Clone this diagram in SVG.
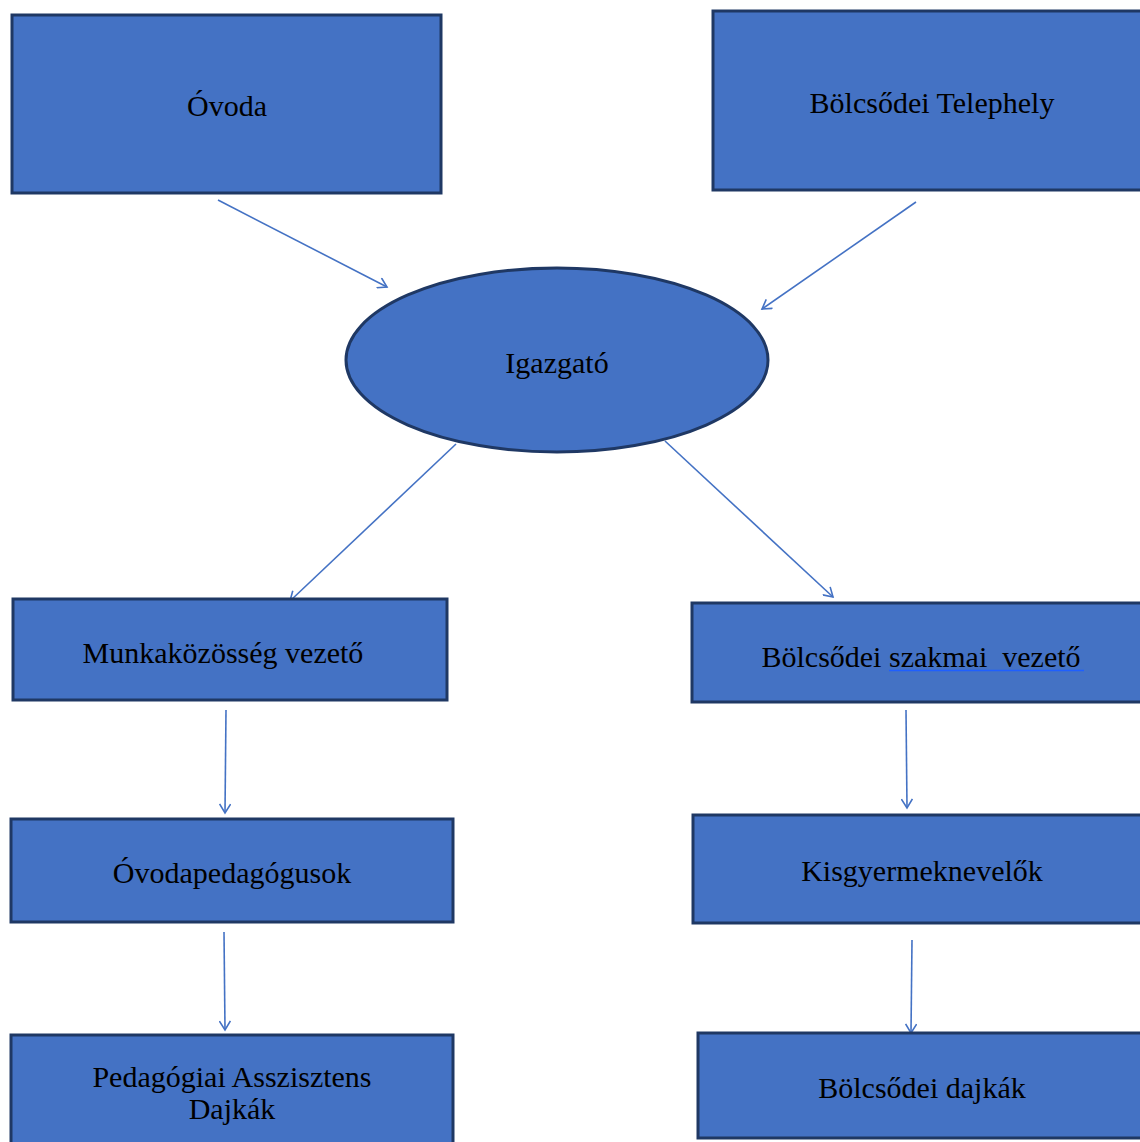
<svg xmlns="http://www.w3.org/2000/svg" width="1140" height="1142" viewBox="0 0 1140 1142">
<style>
.box{fill:#4472C4;stroke:#1F3864;stroke-width:3}
.lbl{font-family:"Liberation Serif","Times New Roman",serif;font-size:30px;fill:#000;text-anchor:middle;white-space:pre}
.conn{stroke:#4472C4;stroke-width:1.6;fill:none;marker-end:url(#ah)}
</style>
<defs>
<marker id="ah" markerWidth="12" markerHeight="12" refX="10" refY="6" orient="auto" markerUnits="userSpaceOnUse">
<path d="M1,0.5 L10,6 L1,11.5" fill="none" stroke="#4472C4" stroke-width="1.6"/>
</marker>
</defs>
<rect width="1140" height="1142" fill="#fff"/>
<g id="connectors">
<line class="conn" x1="218" y1="200" x2="387" y2="287"/>
<line class="conn" x1="916" y1="202" x2="762" y2="309"/>
<line class="conn" x1="456" y1="444" x2="290" y2="601"/>
<line class="conn" x1="665" y1="441" x2="833" y2="597"/>
<line class="conn" x1="226" y1="710" x2="225" y2="813"/>
<line class="conn" x1="906" y1="710" x2="907" y2="808"/>
<line class="conn" x1="224" y1="932" x2="225" y2="1030"/>
<line class="conn" x1="912" y1="940" x2="911" y2="1033"/>
</g>
<g id="ovoda">
<rect class="box" x="12" y="15" width="429" height="178"/>
<text class="lbl" x="227" y="116">Óvoda</text>
</g>
<g id="telephely">
<rect class="box" x="713" y="11" width="440" height="179"/>
<text class="lbl" x="932" y="113">Bölcsődei Telephely</text>
</g>
<g id="igazgato">
<ellipse class="box" cx="557" cy="360" rx="211" ry="92"/>
<text class="lbl" x="557" y="373">Igazgató</text>
</g>
<g id="munkakozosseg">
<rect class="box" x="13" y="599" width="434" height="101"/>
<text class="lbl" x="223" y="663">Munkaközösség vezető</text>
</g>
<g id="bolcsodei-szakmai">
<rect class="box" x="692" y="603" width="460" height="99"/>
<text class="lbl" x="921" y="667">Bölcsődei szakmai  vezető</text>
<line x1="889" y1="670.5" x2="1084" y2="670.5" stroke="#1F5FFF" stroke-width="1.5"/>
</g>
<g id="ovodapedagogusok">
<rect class="box" x="11" y="819" width="442" height="103"/>
<text class="lbl" x="232" y="883">Óvodapedagógusok</text>
</g>
<g id="kisgyermeknevelok">
<rect class="box" x="693" y="815" width="460" height="108"/>
<text class="lbl" x="922" y="881">Kisgyermeknevelők</text>
</g>
<g id="pedagogiai">
<rect class="box" x="11" y="1035" width="442" height="120"/>
<text class="lbl" x="232" y="1087">Pedagógiai Asszisztens</text>
<text class="lbl" x="232" y="1119">Dajkák</text>
</g>
<g id="bolcsodei-dajkak">
<rect class="box" x="698" y="1033" width="455" height="105"/>
<text class="lbl" x="922" y="1098">Bölcsődei dajkák</text>
</g>
</svg>
